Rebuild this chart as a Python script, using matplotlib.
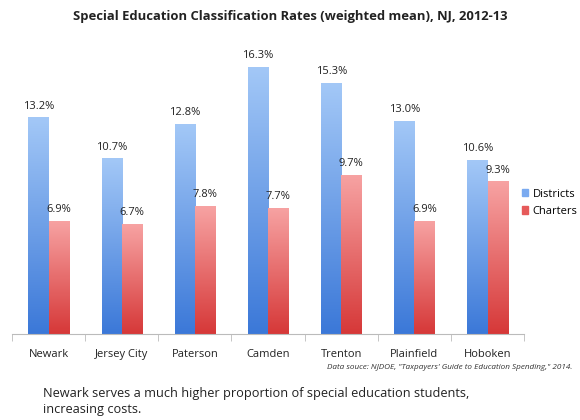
import numpy as np
import matplotlib.pyplot as plt
from matplotlib.colors import LinearSegmentedColormap
from matplotlib.patches import Patch

plt.rcParams['font.family'] = ['Open Sans', 'DejaVu Sans']

cities = ['Newark', 'Jersey City', 'Paterson', 'Camden', 'Trenton', 'Plainfield', 'Hoboken']
districts = [13.2, 10.7, 12.8, 16.3, 15.3, 13.0, 10.6]
charters = [6.9, 6.7, 7.8, 7.7, 9.7, 6.9, 9.3]

blue_cmap = LinearSegmentedColormap.from_list('b', ['#3b78d8', '#a3c8f7'])
red_cmap = LinearSegmentedColormap.from_list('r', ['#d63838', '#f7a3a3'])

fig = plt.figure(figsize=(5.8, 4.2), dpi=100)
ax = fig.add_axes([0.0207, 0.205, 0.883, 0.664])

x = np.arange(len(cities))
w = 0.275
b1 = ax.bar(x - w / 2, districts, w, color='none', edgecolor='none')
b2 = ax.bar(x + w / 2, charters, w, color='none', edgecolor='none')

grad = np.linspace(0, 1, 256).reshape(-1, 1)


def fill_gradient(bars, cmap):
    for bar in bars:
        x0, y0 = bar.get_x(), bar.get_y()
        x1, y1 = x0 + bar.get_width(), y0 + bar.get_height()
        im = ax.imshow(grad, cmap=cmap, extent=[x0, x1, y0, y1], origin='lower',
                       aspect='auto', zorder=2)
        im.set_clip_path(bar)


fill_gradient(b1, blue_cmap)
fill_gradient(b2, red_cmap)

for bar, v in zip(b1, districts):
    ax.text(bar.get_x() + bar.get_width() / 2, v + 0.35, f'{v:.1f}%',
            ha='center', va='bottom', fontsize=8, color='#222222')
for bar, v in zip(b2, charters):
    ax.text(bar.get_x() + bar.get_width() / 2, v + 0.35, f'{v:.1f}%',
            ha='center', va='bottom', fontsize=8, color='#222222')

ax.set_xlim(-0.5, len(cities) - 0.5)
ax.set_ylim(0, 17)
ax.set_xticks(x)
ax.set_xticklabels(cities, fontsize=8, color='#222222')
ax.set_xticks(np.arange(len(cities) + 1) - 0.5, minor=True)
ax.tick_params(axis='x', which='major', length=0, pad=11)
ax.tick_params(axis='x', which='minor', length=5, color='#bbbbbb')
ax.set_yticks([])
for s in ['top', 'right', 'left']:
    ax.spines[s].set_visible(False)
ax.spines['bottom'].set_color('#bbbbbb')

handles = [Patch(color='#7aaaf0', label='Districts'), Patch(color='#e65a5a', label='Charters')]
fig.legend(handles=handles, loc='center left', bbox_to_anchor=(0.882, 0.517),
           frameon=False, fontsize=8, handlelength=0.6, handleheight=0.6,
           handletextpad=0.4, labelspacing=0.55)

fig.text(0.5, 0.96, 'Special Education Classification Rates (weighted mean), NJ, 2012-13',
         ha='center', va='center', fontsize=9.4, fontweight='bold', color='#222222')
fig.text(0.987, 0.125, 'Data souce: NJDOE, "Taxpayers\' Guide to Education Spending," 2014.',
         ha='right', va='center', fontsize=5.9, style='italic', color='#333333')
fig.text(0.074, 0.044, 'Newark serves a much higher proportion of special education students,\nincreasing costs.',
         ha='left', va='center', fontsize=9.2, color='#222222', linespacing=1.25)

fig.savefig('out.png', dpi=100)
